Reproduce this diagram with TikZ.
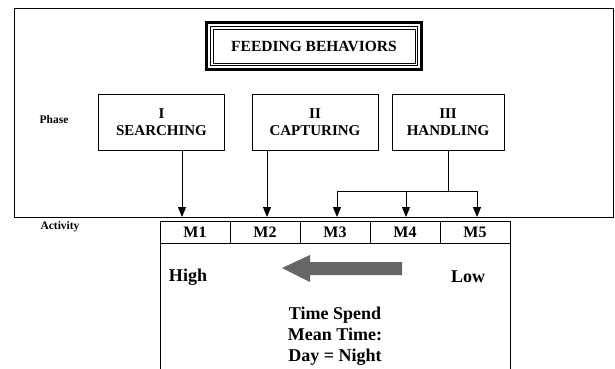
\documentclass[tikz,border=0pt]{standalone}
\usepackage{fontspec}
\setmainfont{Liberation Serif}
\usetikzlibrary{arrows.meta}
\tikzset{
  phasebox/.style={draw, line width=0.9pt, outer sep=0pt, inner sep=0pt, minimum height=56pt, align=center, font=\fontsize{15}{17}\selectfont\bfseries},
  cell/.style={draw, line width=0.6pt, outer sep=0pt, inner sep=0pt, minimum width=70pt, minimum height=22pt, font=\fontsize{16}{18}\selectfont\bfseries},
  lbl/.style={font=\fontsize{11.5}{13}\selectfont\bfseries},
  big/.style={font=\fontsize{18}{21}\selectfont\bfseries, align=center},
  tip/.style={-{Triangle[width=8pt,length=10pt]}, line width=0.9pt},
}
\begin{document}
\begin{tikzpicture}[x=1pt,y=-1pt]
\useasboundingbox (0,0) rectangle (615,369);
%\draw[help lines, color=gray!30, dashed] (0,0) grid[step=50] (615,369);
\draw[line width=0.8pt] (14.5,8.5) rectangle (613.5,217);
\node[draw, line width=2.6pt, outer sep=0pt, minimum width=215, minimum height=47, font=\fontsize{15.5}{17}\selectfont\bfseries] (title) at (314,46) {FEEDING BEHAVIORS};
\draw[line width=0.6pt] ([shift={(4,4)}]title.north west) rectangle ([shift={(-4,-4)}]title.south east);
\draw[line width=0.9pt] ([shift={(6.5,6.5)}]title.north west) rectangle ([shift={(-6.5,-6.5)}]title.south east);
\node[lbl] (phase) at (54,120) {Phase};
\node[phasebox, minimum width=126] (searching) at (161.5,122) {I\\SEARCHING};
\node[phasebox, minimum width=126] (capturing) at (315,122) {II\\CAPTURING};
\node[phasebox, minimum width=112] (handling) at (448,122) {III\\HANDLING};
\node[lbl] (activity) at (60,227) {Activity};
\draw[line width=0.8pt] (160,221) rectangle (510,371);
\foreach \n in {1,...,5}
  \node[cell] (m\n) at (125+70*\n,232) {M\n};
\foreach \n/\x in {1/182, 2/267, 3/337, 4/406, 5/477}
  \coordinate (in\n) at (\x,217);
\coordinate (fork) at (448,191);
\draw[tip] (in1 |- searching.south) -- (in1);
\draw[tip] (in2 |- capturing.south) -- (in2);
\draw[line width=0.9pt] (handling.south) -- (fork);
\draw[line width=0.9pt] (in3 |- fork) -- (in5 |- fork);
\foreach \n in {3,4,5}
  \draw[tip] (in\n |- fork) -- (in\n);
\node[big] (high) at (188,277) {High};
\node[big] (low) at (468,277) {Low};
\fill[black!60] (282,268) -- (310,255) -- (310,262) -- (402,262) -- (402,275) -- (310,275) -- (310,282) -- cycle;
\node[big] (time) at (335,336) {Time Spend\\Mean Time:\\Day = Night};
\end{tikzpicture}
\end{document}
